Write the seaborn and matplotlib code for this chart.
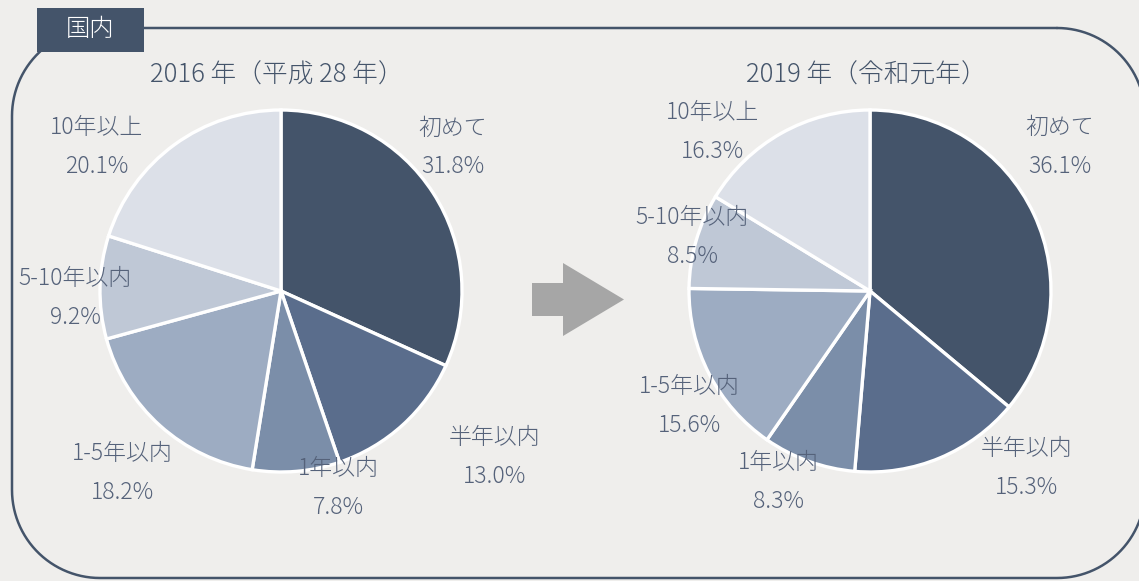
import numpy as np
import matplotlib.pyplot as plt
import seaborn as sns
from matplotlib.patches import Rectangle, Polygon

# データ
categories = ['初めて', '半年以内', '1年以内', '1-5年以内', '5-10年以内', '10年以上']
share_2016 = [31.8, 13.0, 7.8, 18.2, 9.2, 20.1]
share_2019 = [36.1, 15.3, 8.3, 15.6, 8.5, 16.3]
title_2016 = '2016 年（平成 28 年）'
title_2019 = '2019 年（令和元年）'
tab_label = '国内'

sns.set_theme(style='white')
plt.rcParams['font.family'] = ['Noto Sans CJK JP', 'DejaVu Sans']

W, H = 1139, 581
BG = '#EFEEEC'
NAVY = '#44546A'
TXT = '#55627A'
palette = ['#44546A', '#5A6D8C', '#7B8EA9', '#9DACC2', '#BFC8D6', '#DCE0E8']

fig = plt.figure(figsize=(W / 100, H / 100), dpi=100, facecolor=BG)
ax = fig.add_axes([0, 0, 1, 1])
ax.set_facecolor(BG)


def rounded_box(x0, y0, x1, y1, r):
    # 角丸四角形の輪郭（画面座標、y は下向き）
    pts = []
    corners = [((x1 - r, y0 + r), -90, 0), ((x1 - r, y1 - r), 0, 90),
               ((x0 + r, y1 - r), 90, 180), ((x0 + r, y0 + r), 180, 270)]
    for (ccx, ccy), a0, a1 in corners:
        t = np.radians(np.linspace(a0, a1, 30))
        pts += list(zip(ccx + r * np.cos(t), ccy + r * np.sin(t)))
    pts.append(pts[0])
    return np.array(pts)


box = rounded_box(12, 28, 1145, 578, 88)
ax.plot(box[:, 0], box[:, 1], color=NAVY, linewidth=1.8, zorder=1)

# タブ
ax.add_patch(Rectangle((37, 8), 107, 44, facecolor=NAVY, edgecolor='none', zorder=3))
ax.text(90, 30, tab_label, color='white', fontsize=17.5, fontweight='light',
        ha='center', va='center', zorder=4)

R = 181
pies = [
    (share_2016, title_2016, (281, 291),
     [(0.950, -0.793), (1.182, 0.917), (0.315, 1.088),
      (-0.878, 1.003), (-1.138, 0.041), (-1.017, -0.798)]),
    (share_2019, title_2019, (870, 291),
     [(1.050, -0.798), (0.862, 0.978), (-0.508, 1.058),
      (-1.000, 0.638), (-0.983, -0.301), (-0.872, -0.876)]),
]

for values, title, (cx, cy), label_pos in pies:
    ax.pie(values, colors=palette, startangle=-90, counterclock=True,
           center=(cx, cy), radius=R, frame=True,
           wedgeprops=dict(edgecolor='white', linewidth=2.4))
    ax.text(cx - 4, 75, title, color=NAVY, fontsize=18.5, fontweight='light',
            ha='center', va='center')
    for name, v, (dx, dy) in zip(categories, values, label_pos):
        x, y = cx + dx * R, cy + dy * R
        ax.text(x, y - 19.5, name, color=TXT, fontsize=16.5, fontweight='light',
                ha='center', va='center')
        ax.text(x, y + 19.5, f'{v:.1f}%', color=TXT, fontsize=16.5, fontweight='light',
                ha='center', va='center')

# 矢印
arrow = Polygon([(532, 283), (563, 283), (563, 263), (624, 299.5),
                 (563, 336), (563, 316), (532, 316)],
                closed=True, facecolor='#A6A6A6', edgecolor='none')
ax.add_patch(arrow)

ax.set_xlim(0, W)
ax.set_ylim(H, 0)
ax.set_aspect('equal')
ax.axis('off')

fig.savefig('out.png', dpi=100, facecolor=BG)
